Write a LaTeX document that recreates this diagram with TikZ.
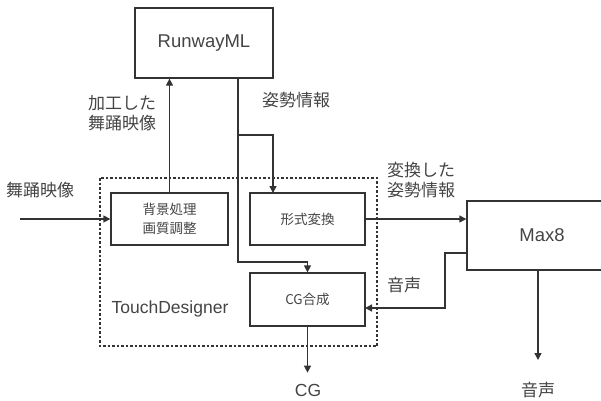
\documentclass[tikz,border=0pt]{standalone}
\usepackage{fontspec}
\setmainfont{Liberation Sans}
\newfontfamily\jpfont{Noto Sans CJK JP}
\usetikzlibrary{arrows.meta}
\definecolor{inkline}{HTML}{333333}
\definecolor{inktext}{HTML}{444444}
\tikzset{
  box/.style={draw=inkline, line width=1.3pt, inner sep=0pt, text=inktext},
  bigbox/.style={box, font=\fontsize{18.5}{22}\selectfont},
  smallbox/.style={box, font=\jpfont\fontsize{13.5}{19}\selectfont, align=center},
  lbl/.style={text=inktext, inner sep=0pt, font=\jpfont\fontsize{17}{20}\selectfont, align=left},
  latinlbl/.style={text=inktext, inner sep=0pt, font=\fontsize{17.5}{20}\selectfont},
  flow/.style={draw=inkline, line width=1.3pt, -{Triangle[length=7pt,width=7pt]}},
  frame/.style={draw=inkline, line width=1.3pt, dash pattern=on 2.5pt off 2pt},
}

\begin{document}
\begin{tikzpicture}[x=1pt, y=-1pt]
  \useasboundingbox (0,0) rectangle (601,400);
  % TouchDesigner frame
  \draw[frame] (100,178) rectangle (377,346);
  \node[latinlbl] (td) at (170,309) {TouchDesigner};

  % boxes
  \node[bigbox, minimum width=138pt, minimum height=70pt] (rw) at (204,43) {RunwayML};
  \node[smallbox, minimum width=117pt, minimum height=52pt] (bg) at (169.5,219) {背景処理\\画質調整};
  \node[smallbox, minimum width=115pt, minimum height=52pt] (conv) at (307.5,219) {形式変換};
  \node[smallbox, minimum width=115pt, minimum height=53pt] (cg) at (307.5,299.5) {CG合成};
  \node[bigbox, minimum width=150pt, minimum height=69pt] (mx) at (542,235.5) {Max8};

  % labels
  \node[lbl] (inlbl) at (40,190) {舞踊映像};
  \node[lbl] (proclbl) at (122,113) {加工した\\舞踊映像};
  \node[lbl] (poselbl) at (296,100) {姿勢情報};
  \node[lbl] (convlbl) at (421,180) {変換した\\姿勢情報};
  \node[lbl] (sndlbl) at (404,285) {音声};
  \node[lbl] (sndout) at (538,390) {音声};
  \node[latinlbl] (cgout) at (308,390) {CG};

  % connector points
  \coordinate (in) at (20,219);
  \coordinate (rwout) at (238,78);
  \coordinate (split) at (238,135);
  \coordinate (turn) at (238,262);
  \coordinate (convin) at (273,193);
  \coordinate (mxout) at (467,253);
  \coordinate (sndbend) at (445,253);
  \coordinate (cgin) at (365,308);
  \coordinate (mxdown) at (538,270);

  % connectors
  \draw[flow] (in) -- (bg.west);
  \draw[flow] (bg.north) -- (bg.north |- rw.south);
  \draw[flow] (rwout) -- (turn) -| (cg.north);
  \draw[flow] (split) -| (convin);
  \draw[flow] (conv.east) -- (conv.east -| mx.west);
  \draw[flow] (mxout) -- (sndbend) |- (cgin);
  \draw[flow] (cg.south) -- ++(0,46);
  \draw[flow] (mxdown) -- ++(0,90);
\end{tikzpicture}
\end{document}
